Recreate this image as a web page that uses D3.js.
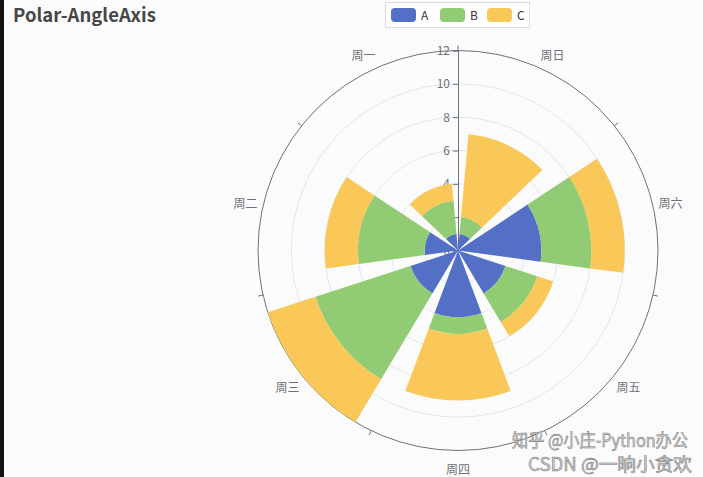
<!DOCTYPE html>
<html>
<head>
<meta charset="utf-8">
<script src="https://cdn.jsdelivr.net/npm/d3@7/dist/d3.min.js"></script>
<style>
body{margin:0;background:#fbfbfb;}
svg{display:block;}
text{font-family:"Noto Sans CJK SC","Noto Sans",sans-serif;}
</style>
</head>
<body>
<script>
// data
var days = ["周一","周二","周三","周四","周五","周六","周日"];
var seriesNames = ["A","B","C"];
var valuesA = [1,2,3,4,3,5,1];
var valuesB = [2,4,6,1,2,3,1];
var valuesC = [1,2,3,4,1,2,5];
var radiusTicks = [0,2,4,6,8,10,12];
var colors = ["#5470c6","#91cc75","#fac858"];

var svgwidth = 703, svgheight = 477;
var cx = 458, cy = 250.5, R = 200;

var svg = d3.select("body").append("svg")
	.attr("width",svgwidth)
	.attr("height",svgheight);

svg.append("rect").attr("width",svgwidth).attr("height",svgheight).attr("fill","#fbfbfb");
// dark strip on left edge of the screenshot
svg.append("rect").attr("width",4).attr("height",svgheight).attr("fill","#111");

// title
svg.append("text")
	.attr("x",13).attr("y",22)
	.attr("font-size",18.5).attr("font-weight","bold")
	.attr("fill","#464646")
	.text("Polar-AngleAxis");

// legend
var legend = svg.append("g");
legend.append("rect")
	.attr("x",385.5).attr("y",2.5).attr("width",144).attr("height",25)
	.attr("fill","#fff").attr("stroke","#ddd");
var legX = [391,440,487];
seriesNames.forEach(function(n,i){
	legend.append("rect")
		.attr("x",legX[i]).attr("y",8).attr("width",25).attr("height",14)
		.attr("rx",4).attr("fill",colors[i]);
	legend.append("text")
		.attr("x",legX[i]+30).attr("y",19.5)
		.attr("font-size",12).attr("fill","#333")
		.text(n);
});

var rScale = d3.scaleLinear().domain([0,12]).range([0,R]);
var aScale = d3.scaleBand().domain(days).range([0,2*Math.PI]).paddingInner(0.2).paddingOuter(0.1);
var step = 2*Math.PI/days.length;

var g = svg.append("g").attr("transform","translate("+cx+","+cy+")");

// split circles
g.selectAll("circle.split")
	.data(radiusTicks.filter(function(d){return d>0 && d<12;}))
	.enter().append("circle")
	.attr("r",function(d){return rScale(d);})
	.attr("fill","none").attr("stroke","#E0E6F1");

// outer angle axis circle
g.append("circle").attr("r",R).attr("fill","none").attr("stroke","#6E7079");

// angle ticks (counterclockwise from top)
g.selectAll("line.atick").data(days).enter().append("line")
	.attr("x1",function(d,i){return -Math.sin(i*step)*R;})
	.attr("y1",function(d,i){return -Math.cos(i*step)*R;})
	.attr("x2",function(d,i){return -Math.sin(i*step)*(R+5);})
	.attr("y2",function(d,i){return -Math.cos(i*step)*(R+5);})
	.attr("stroke","#6E7079");

// angle labels
g.selectAll("text.alab").data(days).enter().append("text")
	.attr("x",function(d){return -Math.sin(aScale(d)+aScale.bandwidth()/2)*218;})
	.attr("y",function(d){return -Math.cos(aScale(d)+aScale.bandwidth()/2)*218;})
	.attr("text-anchor","middle").attr("dominant-baseline","central")
	.attr("font-size",12).attr("fill","#6E7079")
	.text(function(d){return d;});

// radius axis
var yAxisScale = d3.scaleLinear().domain([0,12]).range([0,-R]);
var yAxis = g.append("g")
	.call(d3.axisLeft(yAxisScale).tickValues(radiusTicks).tickSize(5).tickPadding(3));
yAxis.select(".domain").attr("stroke","#6E7079");
yAxis.selectAll(".tick line").attr("stroke","#6E7079");
yAxis.selectAll(".tick text").attr("fill","#6E7079").attr("font-size",12)
	.attr("font-family","\"Noto Sans CJK SC\",sans-serif");

// stacked bars
var arc = d3.arc();
var stacked = [valuesA,valuesB,valuesC];
var base = days.map(function(){return 0;});
stacked.forEach(function(vals,s){
	g.selectAll("path.s"+s).data(days).enter().append("path")
		.attr("fill",colors[s])
		.attr("d",function(d,i){
			var a0 = aScale(d), a1 = a0+aScale.bandwidth();
			return arc({innerRadius:rScale(base[i]),outerRadius:rScale(base[i]+vals[i]),
				startAngle:-a1,endAngle:-a0});
		});
	base = base.map(function(b,i){return b+vals[i];});
});

// watermark
var wm = svg.append("g").attr("font-size",18).attr("fill","#d4d4d4")
	.attr("stroke","#7a7a7a").attr("stroke-width",0.55);
wm.append("text").attr("x",512).attr("y",447)
	.attr("textLength",176).attr("lengthAdjust","spacingAndGlyphs")
	.text("知乎 @小庄-Python办公");
wm.append("text").attr("x",528).attr("y",471)
	.attr("textLength",164).attr("lengthAdjust","spacingAndGlyphs")
	.text("CSDN @一晌小贪欢");
</script>
</body>
</html>
